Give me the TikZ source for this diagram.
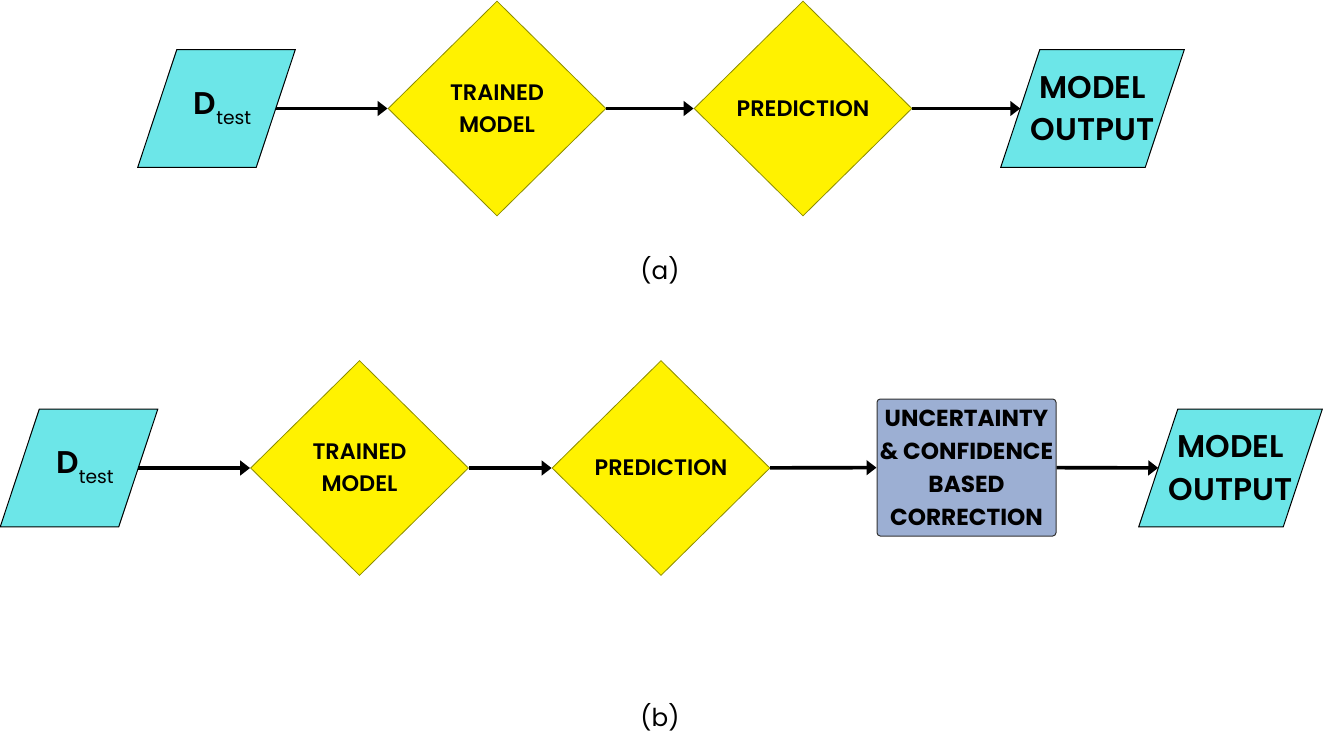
\documentclass[tikz,border=0pt]{standalone}
\usepackage{fontspec}
\setmainfont{Poppins}
\newfontfamily\pmed{Poppins SemiBold}
\usetikzlibrary{shapes.geometric,arrows.meta,backgrounds}
\definecolor{cyanfill}{HTML}{6CE6E8}
\definecolor{diaborder}{HTML}{8C8C00}
\definecolor{boxfill}{HTML}{9CAFD3}
\tikzset{
  iotext/.style={rectangle, inner sep=0pt, minimum height=87.75pt, align=center},
  dtest/.style={iotext, minimum width=88.5pt},
  mout/.style={iotext, minimum width=108pt, font=\pmed\fontsize{23.5}{32}\selectfont},
  iobox/.style={draw=black, line width=0.75pt, fill=cyanfill},
  dia/.style={diamond, draw=diaborder, line width=0.6pt, fill=yellow,
    minimum width=163.5pt, minimum height=161.25pt, inner sep=0pt, align=center,
    font=\pmed\fontsize{16.8}{24}\selectfont},
  corrbox/.style={rectangle, rounded corners=2.5pt, draw=black!80, line width=0.75pt,
    fill=boxfill, minimum width=134.25pt, minimum height=102.75pt, inner sep=0pt,
    align=center, font=\bfseries\fontsize{17.4}{24.75}\selectfont},
  arr/.style={-{Triangle[length=7.5pt,width=11pt]}, line width=2.7pt},
  sublabel/.style={font=\fontsize{18.5}{22}\selectfont}
}
\newcommand{\Dtest}{\hspace*{9pt}{\pmed\fontsize{23.5}{28}\selectfont D}\raisebox{-7.5pt}{\fontsize{14}{15}\selectfont test}}
\newcommand{\slanted}[1]{%
  \begin{scope}[on background layer]
    \draw[iobox] ([xshift=-14.625pt]#1.south west) -- ([xshift=-14.625pt]#1.south east)
      -- ([xshift=14.625pt]#1.north east) -- ([xshift=14.625pt]#1.north west) -- cycle;
  \end{scope}}
\begin{document}
\begin{tikzpicture}[x=0.75pt,y=-0.75pt]
\useasboundingbox (0,0) rectangle (1326,733);
% (a)
\node[dtest] (ad) at (216.5,108.5) {\Dtest};
\slanted{ad}
\node[dia] (atm) at (497,108.5) {TRAINED\\MODEL};
\node[dia] (apr) at (803,108.5) {PREDICTION};
\node[mout] (amo) at (1092.5,108.5) {MODEL\\OUTPUT};
\slanted{amo}
\node[sublabel] (alab) at (660,270) {(a)};
\draw[arr] (ad) -- (atm);
\draw[arr] (atm) -- (apr);
\draw[arr] (apr) -- (amo);
% (b)
\node[dtest] (bd) at (79,468) {\Dtest};
\slanted{bd}
\node[dia] (btm) at (359.5,468) {TRAINED\\MODEL};
\node[dia] (bpr) at (661,468) {PREDICTION};
\node[corrbox] (buc) at (966.5,467.5) {UNCERTAINTY\\\& CONFIDENCE\\BASED\\CORRECTION};
\node[mout] (bmo) at (1230.5,468) {MODEL\\OUTPUT};
\slanted{bmo}
\node[sublabel] (blab) at (660,717) {(b)};
\draw[arr] (bd) -- (btm);
\draw[arr] (btm) -- (bpr);
\draw[arr] (bpr) -- (buc);
\draw[arr] (buc) -- (bmo);
\end{tikzpicture}
\end{document}
